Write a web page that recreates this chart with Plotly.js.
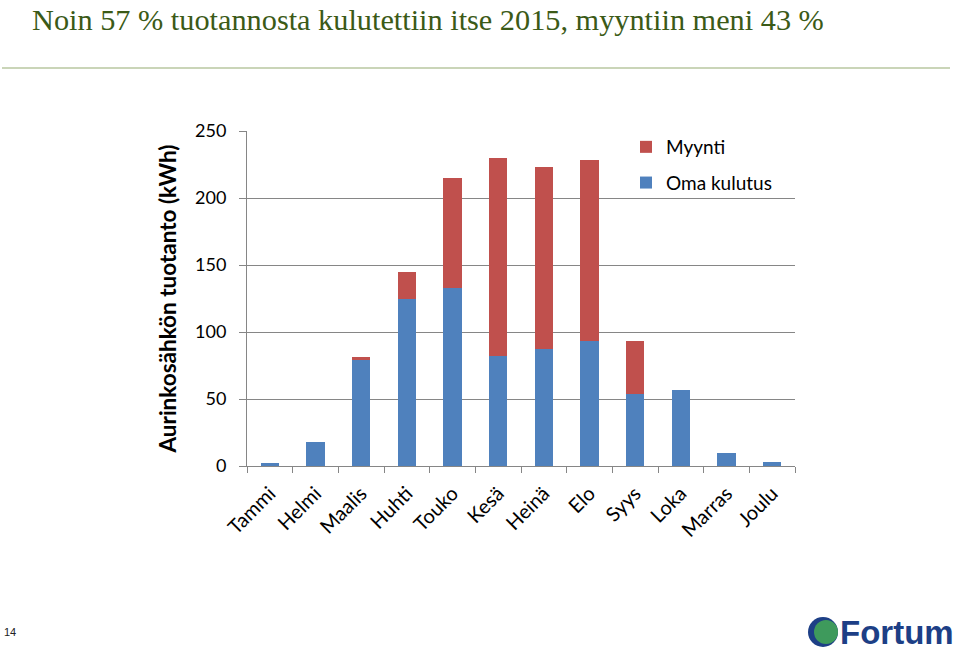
<!DOCTYPE html>
<html>
<head>
<meta charset="utf-8">
<script src="https://cdn.plot.ly/plotly-3.0.1.min.js"></script>
<style>html,body{margin:0;padding:0;background:#fff;}#chart{width:959px;height:653px;}</style>
</head>
<body>
<div id="chart"></div>
<script>
const months = ["Tammi","Helmi","Maalis","Huhti","Touko","Kesä","Heinä","Elo","Syys","Loka","Marras","Joulu"];
const omaKulutus = [2, 18, 79, 125, 133, 82, 87, 93, 54, 57, 10, 3];
const myynti = [0, 0, 2, 20, 82, 148, 136, 135, 39, 0, 0, 0];
const yTicks = [0, 50, 100, 150, 200, 250];

const fontSans = "Lato, 'Open Sans', sans-serif";

const traces = [
  {type: "bar", name: "Oma kulutus", x: months, y: omaKulutus, marker: {color: "#4f81bd"}, legendgroup: "a", legendrank: 2, hoverinfo: "x+y"},
  {type: "bar", name: "Myynti", x: months, y: myynti, marker: {color: "#c0504d"}, legendgroup: "b", legendrank: 1, hoverinfo: "x+y"}
];

const L = 247, R = 795, T = 131, B = 466;
const px = v => (v - L) / (R - L);
const py = v => (B - v) / (B - T);

const layout = {
  width: 959, height: 653,
  margin: {l: L, r: 959 - R, t: T, b: 653 - B},
  paper_bgcolor: "#ffffff", plot_bgcolor: "#ffffff",
  barmode: "stack",
  bargap: 0.6,
  showlegend: true,
  legend: {x: px(626), y: py(128), xanchor: "left", yanchor: "top", traceorder: "grouped", tracegroupgap: 8,
           font: {family: fontSans, size: 19, color: "#000"}, bgcolor: "rgba(0,0,0,0)"},
  font: {family: fontSans, size: 18, color: "#000"},
  xaxis: {
    type: "category", tickangle: -45, tickson: "boundaries", ticks: "outside", ticklen: 6, tickcolor: "#868686",
    showline: true, linecolor: "#868686", showgrid: false, ticklabelstandoff: 7,
    tickfont: {family: fontSans, size: 20, color: "#000"}
  },
  yaxis: {
    range: [0, 250], tickvals: yTicks, ticks: "outside", ticklen: 7, tickcolor: "#868686",
    showline: true, linecolor: "#868686", gridcolor: "#868686", gridwidth: 1, zeroline: false,
    ticklabelstandoff: 9,
    tickfont: {family: fontSans, size: 18, color: "#000"},
    title: {text: "Aurinkosähkön tuotanto (kWh)", font: {family: fontSans, size: 22.5, color: "#000", weight: "bold"}, standoff: 12}
  },
  shapes: [
    {type: "line", xref: "paper", yref: "paper", x0: px(2), x1: px(950), y0: py(68), y1: py(68), line: {color: "#b8c7a0", width: 1.5}},
    {type: "circle", xref: "paper", yref: "paper", x0: px(808), x1: px(838), y0: py(647), y1: py(617), fillcolor: "#1d3f86", line: {width: 0}},
    {type: "circle", xref: "paper", yref: "paper", x0: px(814), x1: px(838), y0: py(644), y1: py(620), fillcolor: "#3e9a5c", line: {width: 0}}
  ],
  annotations: [
    {xref: "paper", yref: "paper", x: px(30), y: py(1), xanchor: "left", yanchor: "top", showarrow: false,
     text: "Noin 57 % tuotannosta kulutettiin itse 2015, myyntiin meni 43 %",
     font: {family: "'Liberation Serif', 'Times New Roman', serif", size: 30.3, color: "#3b5a17"}},
    {xref: "paper", yref: "paper", x: px(2), y: py(632), xanchor: "left", yanchor: "middle", showarrow: false,
     text: "14", font: {family: "'Liberation Sans', Arial, sans-serif", size: 11, color: "#222"}},
    {xref: "paper", yref: "paper", x: px(838), y: py(632), xanchor: "left", yanchor: "middle", showarrow: false,
     text: "<b>Fortum</b>", font: {family: "'Liberation Sans', Arial, sans-serif", size: 33, color: "#1d3f86"}}
  ]
};

Plotly.newPlot("chart", traces, layout, {displayModeBar: false, staticPlot: true});
</script>
</body>
</html>
